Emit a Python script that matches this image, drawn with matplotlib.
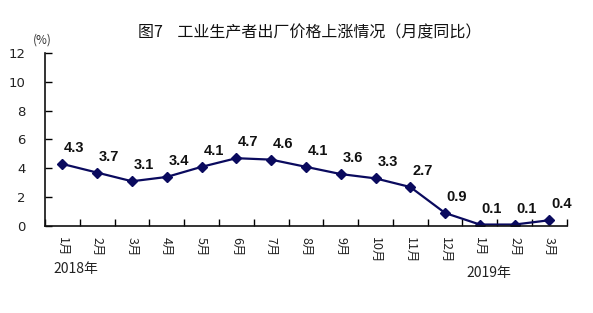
import numpy as np
import matplotlib
matplotlib.use("Agg")
import matplotlib.pyplot as plt

plt.rcParams['font.family'] = ['Noto Sans CJK SC', 'DejaVu Sans']

months = ['1月', '2月', '3月', '4月', '5月', '6月', '7月', '8月',
          '9月', '10月', '11月', '12月', '1月', '2月', '3月']
ppi = [4.3, 3.7, 3.1, 3.4, 4.1, 4.7, 4.6, 4.1, 3.6, 3.3, 2.7, 0.9, 0.1, 0.1, 0.4]
yticks = [0, 2, 4, 6, 8, 10, 12]

line_col = '#0a0a5e'

fig = plt.figure(figsize=(5.93, 3.13), dpi=100)
ax = fig.add_axes([0.0759, 0.278, 0.880, 0.553])

x = np.arange(len(ppi))
ax.plot(x, ppi, '-D', color=line_col, lw=1.6, ms=5, mec=line_col, mfc=line_col)

for xi, v in zip(x, ppi):
    ax.annotate(f'{v:.1f}', (xi, v), xytext=(12, 9), textcoords='offset pixels',
                ha='center', va='bottom', fontsize=10.5, fontweight='bold',
                family='Liberation Sans', color='#111111')

ax.set_xlim(-0.5, len(ppi) - 0.5)
ax.set_ylim(0, 12)
ax.set_yticks(yticks)
ax.set_yticklabels([str(t) for t in yticks], family='DejaVu Sans', fontsize=9.5, color='#222222')
ax.tick_params(axis='y', direction='in', length=5, pad=14, width=1)

# category labels sit between boundary ticks
ax.set_xticks(x)
ax.set_xticklabels(months, rotation=-90, fontsize=9, color='#222222')
ax.tick_params(axis='x', which='major', length=0, pad=8)
ax.set_xticks(np.arange(-0.5, len(ppi), 1), minor=True)
ax.tick_params(axis='x', which='minor', direction='in', length=5, width=1)

for s in ['top', 'right']:
    ax.spines[s].set_visible(False)
for s in ['left', 'bottom']:
    ax.spines[s].set_linewidth(1.2)
    ax.spines[s].set_color('#111111')

fig.text(0.523, 0.895, '图7    工业生产者出厂价格上涨情况（月度同比）', ha='center', va='center',
         fontsize=11.5, color='#111111')
fig.text(0.071, 0.872, '(%)', ha='center', va='center', fontsize=8.5, color='#333333')
fig.text(0.128, 0.142, '2018年', ha='center', va='center', fontsize=10, color='#222222')
fig.text(0.825, 0.128, '2019年', ha='center', va='center', fontsize=10, color='#222222')

fig.savefig('out.png', dpi=100)
